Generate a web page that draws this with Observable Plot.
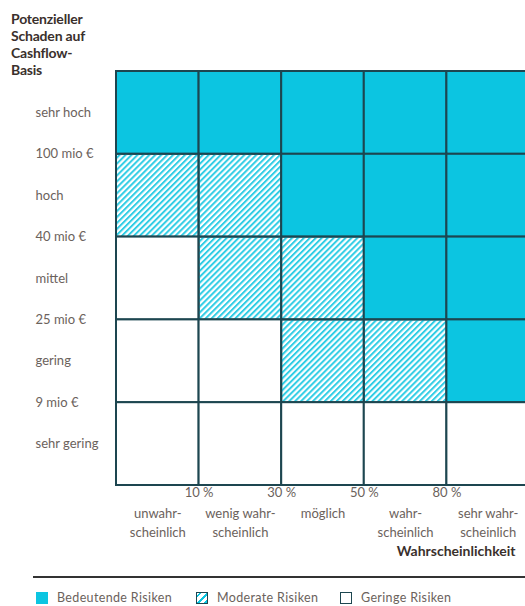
<!DOCTYPE html>
<html>
<head>
<meta charset="utf-8">
<script src="https://cdn.jsdelivr.net/npm/d3@7"></script>
<script src="https://cdn.jsdelivr.net/npm/@observablehq/plot@0.6"></script>
<style>
  html, body { margin: 0; padding: 0; background: #fff; overflow: hidden; }
  #wrap { position: relative; width: 525px; height: 606px; overflow: hidden; font-family: Lato, "Open Sans", sans-serif; }
  #title { position: absolute; left: 11px; top: 10px; font-weight: 700; font-size: 14px; line-height: 17px; color: #3a302c; letter-spacing: -0.2px; }
  #chart { position: absolute; left: 0; top: 0; }
  #legend { position: absolute; left: 33px; top: 576px; width: 500px; border-top: 2px solid #333; }
  .item { position: absolute; top: 13px; height: 13px; line-height: 13px; display: flex; align-items: center; font-size: 12.5px; color: #6b625c; white-space: nowrap; letter-spacing: 0.35px; }
  .sw { width: 12px; height: 12px; box-sizing: border-box; margin-right: 9px; }
</style>
</head>
<body>
<div id="wrap">
  <div id="chart"></div>
  <div id="title">Potenzieller<br>Schaden auf<br>Cashflow-<br>Basis</div>
  <div id="legend"></div>
</div>
<script>
// Damage levels, bottom to top
const damageLevels = ["sehr gering", "gering", "mittel", "hoch", "sehr hoch"];
// Damage thresholds at the boundaries between levels (bottom to top)
const damageThresholds = ["9 mio €", "25 mio €", "40 mio €", "100 mio €"];
// Probability categories, left to right
const probCategories = ["unwahr-\nscheinlich", "wenig wahr-\nscheinlich", "möglich", "wahr-\nscheinlich", "sehr wahr-\nscheinlich"];
// Probability thresholds at boundaries between categories
const probThresholds = ["10 %", "30 %", "50 %", "80 %"];
// Risk class per cell, rows top (sehr hoch) to bottom (sehr gering)
const riskRowSehrHoch   = ["B", "B", "B", "B", "B"];
const riskRowHoch       = ["M", "M", "B", "B", "B"];
const riskRowMittel     = ["G", "M", "M", "B", "B"];
const riskRowGering     = ["G", "G", "M", "M", "B"];
const riskRowSehrGering = ["G", "G", "G", "G", "G"];
const legendLabels = ["Bedeutende Risiken", "Moderate Risiken", "Geringe Risiken"];
const axisTitle = "Wahrscheinlichkeit";

const CYAN = "#0cc5e1";
const DARK = "#1d4650";
const GRAY = "#6b625c";

const matrixTopDown = [riskRowSehrHoch, riskRowHoch, riskRowMittel, riskRowGering, riskRowSehrGering];
const cells = [];
matrixTopDown.forEach((row, r) => {
  const level = 4 - r;
  row.forEach((cls, c) => cells.push({col: c, level, cls}));
});
const fillFor = {B: CYAN, M: "url(#hatch)", G: "#fff"};

const W = 530, H = 565;
const plot = Plot.plot({
  width: W,
  height: H,
  marginLeft: 116,
  marginRight: 1,
  marginTop: 71,
  marginBottom: 80,
  x: {domain: [0, 5], axis: null},
  y: {domain: [0, 5], axis: null},
  style: {fontFamily: "Lato, 'Open Sans', sans-serif", fontSize: "13px", maxWidth: "none", overflow: "hidden"},
  marks: [
    Plot.rect(cells, {
      x1: d => d.col, x2: d => d.col + 1,
      y1: d => d.level, y2: d => d.level + 1,
      fill: d => fillFor[d.cls],
      stroke: DARK, strokeWidth: 2
    }),
    // y labels: levels at row centers
    Plot.text(damageLevels, {
      x: 0, y: (d, i) => i + 0.5, text: d => d,
      textAnchor: "start", dx: -81, fill: GRAY, fontSize: 13
    }),
    // y thresholds at boundaries
    Plot.text(damageThresholds, {
      x: 0, y: (d, i) => i + 1, text: d => d,
      textAnchor: "start", dx: -81, fill: GRAY, fontSize: 13
    }),
    // x thresholds at boundaries
    Plot.text(probThresholds, {
      x: (d, i) => i + 1, y: 0, text: d => d,
      lineAnchor: "top", dy: 2, fill: GRAY, fontSize: 13
    }),
    // x categories at column centers
    Plot.text(probCategories, {
      x: (d, i) => i + 0.5, y: 0, text: d => d,
      lineAnchor: "top", dy: 20, lineHeight: 1.4, fill: GRAY, fontSize: 13
    }),
    Plot.text([axisTitle], {
      frameAnchor: "bottom-right", text: d => d,
      textAnchor: "end", lineAnchor: "middle", dx: -14, dy: 66,
      fontWeight: "bold", fill: "#3a302c", fontSize: 14, letterSpacing: "0.3px"
    })
  ]
});

// hatch pattern definition
const ns = "http://www.w3.org/2000/svg";
const defs = document.createElementNS(ns, "defs");
defs.innerHTML = `<pattern id="hatch" patternUnits="userSpaceOnUse" width="4.2" height="4.2" patternTransform="rotate(45)">
  <rect x="0" y="0" width="2" height="4.2" fill="${CYAN}" fill-opacity="0.85"></rect></pattern>`;
plot.insertBefore(defs, plot.firstChild);
document.getElementById("chart").appendChild(plot);

// legend
const legend = document.getElementById("legend");
const swStyles = [
  `background:${CYAN}`,
  `border:1.5px solid ${DARK}; background: repeating-linear-gradient(135deg, #fff 0 1.5px, ${CYAN} 1.5px 3.5px, #fff 3.5px 5px)`,
  `border:1.5px solid ${DARK}; background:#fff`
];
const lefts = [3, 163, 307];
legendLabels.forEach((lab, i) => {
  const it = document.createElement("div");
  it.className = "item";
  it.style.left = lefts[i] + "px";
  const sw = document.createElement("div");
  sw.className = "sw";
  sw.setAttribute("style", swStyles[i]);
  it.appendChild(sw);
  it.appendChild(document.createTextNode(lab));
  legend.appendChild(it);
});
</script>
</body>
</html>
